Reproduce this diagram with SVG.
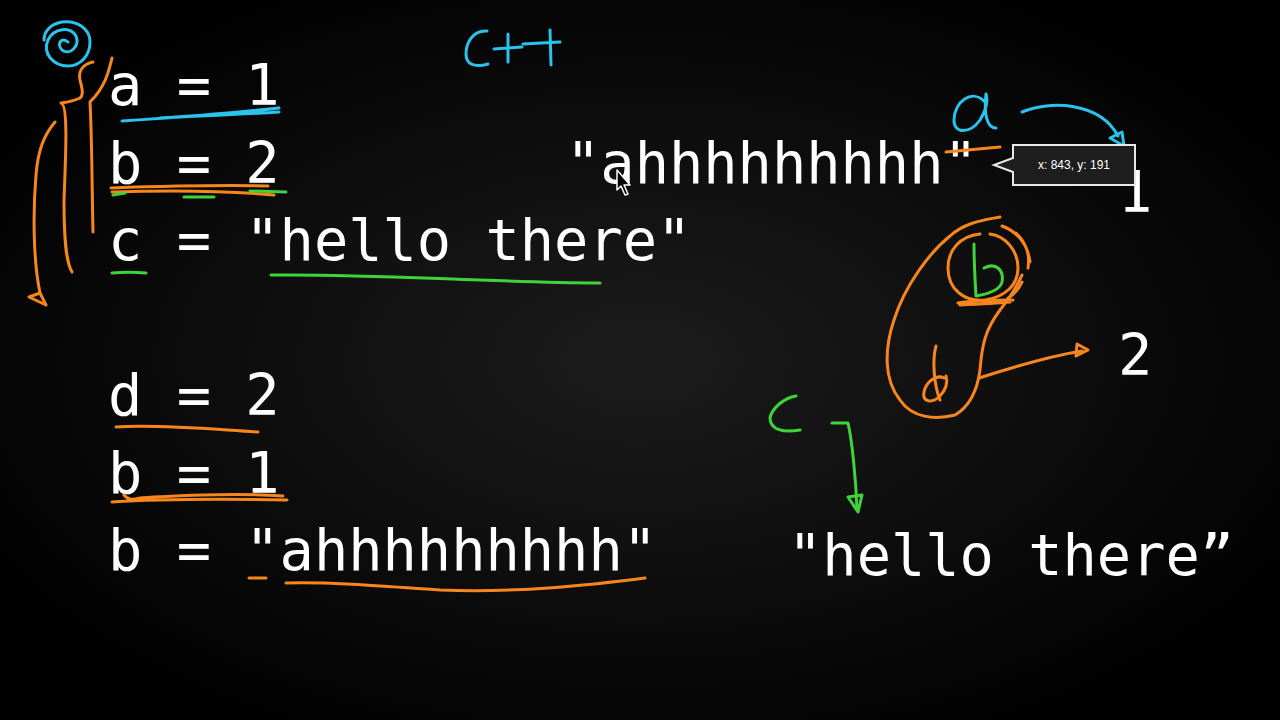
<svg xmlns="http://www.w3.org/2000/svg" width="1280" height="720" viewBox="0 0 1280 720">
<defs>
<radialGradient id="bg" cx="50%" cy="50%" r="60%">
<stop offset="0" stop-color="#1c1c1c"/>
<stop offset="1" stop-color="#000"/>
</radialGradient>
<style>
.code{font-family:"DejaVu Sans Mono","Liberation Mono",monospace;font-size:57px;fill:#fff}
.ink{fill:none;stroke-width:3;stroke-linecap:round;stroke-linejoin:round}
.o{stroke:#f7861d}
.b{stroke:#29c3ec}
.g{stroke:#3fd43a}
</style>
</defs>
<rect width="1280" height="720" fill="url(#bg)"/>

<g id="code">
<text class="code" x="108" y="105">a = 1</text>
<text class="code" x="108" y="183">b = 2</text>
<text class="code" x="108" y="260">c = "hello there"</text>
<text class="code" x="108" y="415">d = 2</text>
<text class="code" x="108" y="493">b = 1</text>
<text class="code" x="108" y="570">b = "ahhhhhhhhh"</text>
</g>

<g id="memory">
<text class="code" x="566" y="183">"ahhhhhhhhh"</text>
<text class="code" x="1118" y="212">1</text>
<text class="code" x="1118" y="375">2</text>
<text class="code" x="788" y="575">"hello there”</text>
</g>

<g id="annotations">
<!-- blue -->
<path class="ink b" d="M68,42 C62,36 56,44 62,50 C70,56 80,46 76,36 C70,26 54,28 48,40 C42,54 54,66 68,66 C80,66 90,56 90,42 C90,28 76,20 62,22 C50,24 44,32 44,40"/>
<path class="ink b" d="M487,31 C472,30 466,44 466,54 C466,64 474,68 488,64"/>
<path class="ink b" d="M494,49 L522,47 M508,34 L508,62"/>
<path class="ink b" d="M523,44 L560,42 M550,30 L551,65"/>
<path class="ink b" d="M985,102 C972,88 954,102 954,120 C954,134 970,134 980,120 C986,110 988,100 986,94 C984,112 986,128 996,128"/>
<path class="ink b" d="M1022,112 C1050,100 1100,102 1118,136"/>
<path class="ink b" d="M1110,138 L1122,132 L1124,146 Z"/>
<path class="ink b" d="M122,121 C170,118 230,114 279,108 C240,112 200,116 160,118 C200,116 250,114 279,112"/>
<!-- orange left brackets -->
<path class="ink o" d="M112,58 C108,75 104,88 90,102 C92,140 92,190 93,232"/>
<path class="ink o" d="M93,62 C84,64 78,70 80,80 C82,88 84,95 80,98 C74,101 68,102 61,103 C68,104 66,150 64,200 C64,240 66,262 72,272"/>
<path class="ink o" d="M55,122 C44,135 38,150 36,175 C33,210 33,260 40,293"/>
<path class="ink o" d="M40,293 L29,297 L46,305 Z"/>
<!-- orange underlines -->
<path class="ink o" d="M111,188 C170,186 230,185 268,186 M112,192 C170,190 230,191 274,195"/>
<path class="ink o" d="M116,427 C160,424 220,430 258,432"/>
<path class="ink o" d="M124,495 C128,500 132,500 140,498 C190,495 240,493 283,496 M112,502 C160,499 230,499 287,500"/>
<path class="ink o" d="M249,578 L266,578"/>
<path class="ink o" d="M286,583 C340,582 380,586 440,590 C520,593 590,585 645,578"/>
<path class="ink o" d="M946,152 L1000,147"/>
<!-- blob around b and d -->
<path class="ink o" d="M1000,217 C985,220 965,222 950,236 C930,252 905,285 894,320 C884,350 884,380 900,400 C912,418 935,420 955,415 C972,405 978,385 980,370 C982,345 985,330 1000,310 C1010,298 1015,290 1022,275"/>
<path class="ink o" d="M980,234 C960,236 948,250 948,268 C948,290 965,302 985,300 C1005,297 1018,285 1018,268 C1018,250 1005,236 990,234"/>
<path class="ink o" d="M1002,226 C1018,232 1028,245 1030,262 M1016,233 C1026,242 1030,255 1028,268 M1022,282 C1018,290 1012,296 1008,298"/>
<path class="ink o" d="M958,303 C975,300 995,300 1013,300 M960,305 C980,304 998,303 1010,302"/>
<path class="ink o" d="M936,346 C932,360 934,385 940,400 M944,378 C936,374 926,382 924,392 C922,402 932,404 940,396 C946,390 948,382 946,376"/>
<path class="ink o" d="M979,378 C1010,368 1045,357 1082,351"/>
<path class="ink o" d="M1077,344 L1088,350 L1076,356 Z"/>
<!-- green -->
<path class="ink g" d="M112,273 C122,272 136,272 146,273"/>
<path class="ink g" d="M271,275 C340,274 420,278 480,280 C530,282 570,283 600,283"/>
<path class="ink g" d="M113,195 L125,193 M184,197 L214,197 M250,191 L286,192"/>
<path class="ink g" d="M974,244 C974,262 975,280 976,296 C988,294 1000,290 1002,282 C1004,270 996,262 984,268"/>
<path class="ink g" d="M796,396 C784,398 772,408 770,418 C770,430 784,433 800,430"/>
<path class="ink g" d="M832,423 L848,423 C852,440 856,480 857,510"/>
<path class="ink g" d="M848,497 L858,512 L862,495 Z"/>
</g>

<g id="tooltip">
<path d="M1013,145 L1135,145 L1135,185 L1013,185 L1013,172 L994,165 L1013,158 Z" fill="#1e1e1e" stroke="#e8e8e8" stroke-width="2"/>
<text x="1074" y="169" text-anchor="middle" font-family="Liberation Sans,Arial,sans-serif" font-size="12" fill="#fff">x: 843, y: 191</text>
</g>

<g id="cursor">
<path d="M617,170 L617,190 L621,186 L625,195 L628,194 L624,185 L630,185 Z" fill="#000" stroke="#fff" stroke-width="1.5" stroke-linejoin="round"/>
</g>
</svg>
